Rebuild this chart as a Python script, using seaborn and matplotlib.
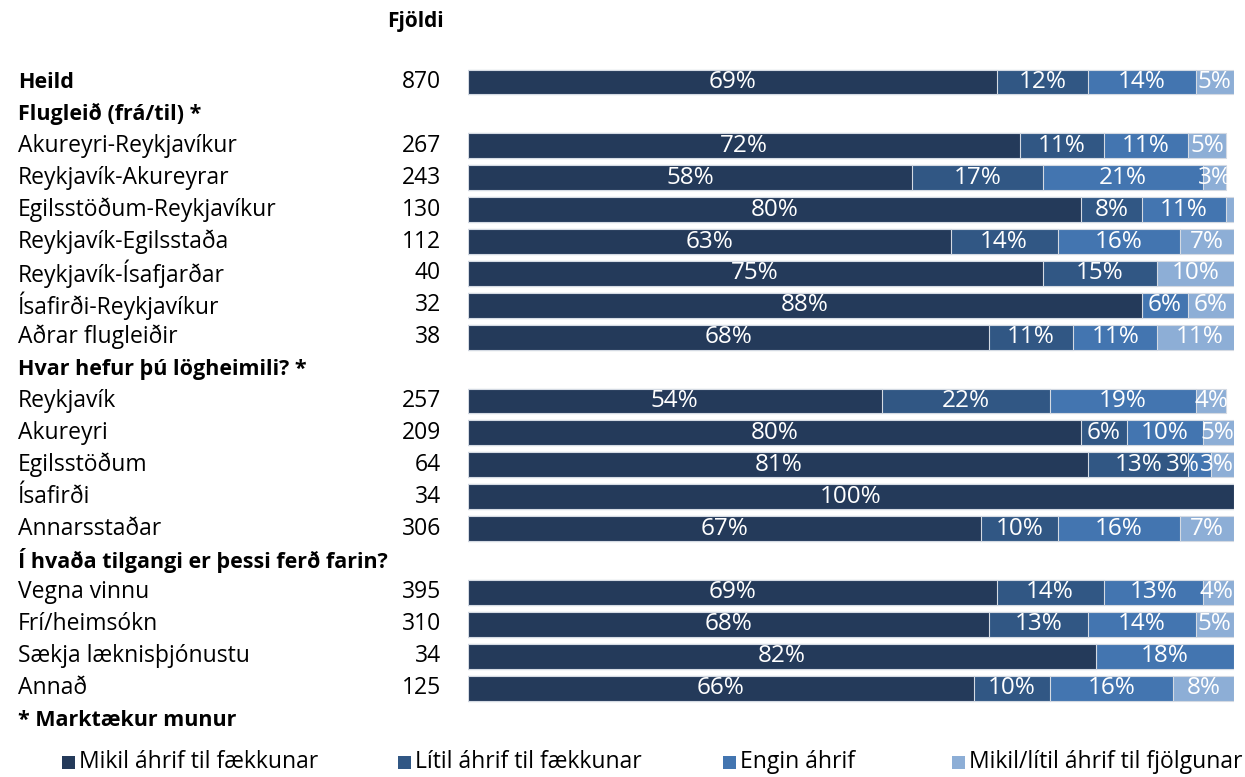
import matplotlib
matplotlib.use("Agg")
import matplotlib.pyplot as plt
from matplotlib.transforms import blended_transform_factory
from matplotlib.patches import Rectangle
import numpy as np
import pandas as pd
import seaborn as sns

sns.set_theme(style="white")
plt.rcParams["font.family"] = ["Open Sans", "DejaVu Sans"]

# Row layout: group headers have no bars
rows = [
    "Heild",
    "Flugleið (frá/til) *",
    "Akureyri-Reykjavíkur", "Reykjavík-Akureyrar", "Egilsstöðum-Reykjavíkur",
    "Reykjavík-Egilsstaða", "Reykjavík-Ísafjarðar", "Ísafirði-Reykjavíkur",
    "Aðrar flugleiðir",
    "Hvar hefur þú lögheimili? *",
    "Reykjavík", "Akureyri", "Egilsstöðum", "Ísafirði", "Annarsstaðar",
    "Í hvaða tilgangi er þessi ferð farin?",
    "Vegna vinnu", "Frí/heimsókn", "Sækja læknisþjónustu", "Annað",
]
bold_rows = ["Heild", "Flugleið (frá/til) *", "Hvar hefur þú lögheimili? *",
             "Í hvaða tilgangi er þessi ferð farin?"]

categories = [
    "Heild",
    "Akureyri-Reykjavíkur", "Reykjavík-Akureyrar", "Egilsstöðum-Reykjavíkur",
    "Reykjavík-Egilsstaða", "Reykjavík-Ísafjarðar", "Ísafirði-Reykjavíkur",
    "Aðrar flugleiðir",
    "Reykjavík", "Akureyri", "Egilsstöðum", "Ísafirði", "Annarsstaðar",
    "Vegna vinnu", "Frí/heimsókn", "Sækja læknisþjónustu", "Annað",
]
fjoldi = [870, 267, 243, 130, 112, 40, 32, 38, 257, 209, 64, 34, 306, 395, 310, 34, 125]

series_names = ["Mikil áhrif til fækkunar", "Lítil áhrif til fækkunar",
                "Engin áhrif", "Mikil/lítil áhrif til fjölgunar"]
mikil_faekkun = [69, 72, 58, 80, 63, 75, 88, 68, 54, 80, 81, 100, 67, 69, 68, 82, 66]
litil_faekkun = [12, 11, 17, 8, 14, 15, 0, 11, 22, 6, 13, 0, 10, 14, 13, 0, 10]
engin_ahrif = [14, 11, 21, 11, 16, 0, 6, 11, 19, 10, 3, 0, 16, 13, 14, 18, 16]
fjolgun = [5, 5, 3, 1, 7, 10, 6, 11, 4, 5, 3, 0, 7, 4, 5, 0, 8]

colors = ["#243a5a", "#315784", "#4375b0", "#8daed6"]

values = np.array([mikil_faekkun, litil_faekkun, engin_ahrif, fjolgun], dtype=float)
cum = np.cumsum(values, axis=0)
df = pd.DataFrame({"row": categories})
for k in range(4):
    df[f"cum{k}"] = cum[k]

W, H = 1245, 777
fig = plt.figure(figsize=(W / 100, H / 100), dpi=100)
ax_w = 766
ax = fig.add_axes([468 / W, 0, ax_w / W, 1])

# Stacked bars: draw cumulative totals from the outermost segment inwards
for k in range(3, -1, -1):
    sns.barplot(data=df, x=f"cum{k}", y="row", order=rows, orient="h",
                color=colors[k], saturation=1, width=0.78, errorbar=None,
                edgecolor="#d4dae3", linewidth=0.8, ax=ax)

pos = {r: i for i, r in enumerate(rows)}
row_step = 31.9
y_top = -82 / row_step
y_bot = (H - 82) / row_step
ax.set_xlim(0, 100)
ax.set_ylim(y_bot, y_top)
ax.axis("off")

# Percentage labels in the middle of each segment; crowded labels are
# pushed leftwards so neighbours do not collide
renderer = fig.canvas.get_renderer()
px_to_data = 100 / ax_w
for i, cat in enumerate(categories):
    y = pos[cat]
    left = 0.0
    labels = []
    for k in range(4):
        v = values[k, i]
        if v >= 3:
            t = ax.text(left + v / 2, y, f"{v:.0f}%", ha="center", va="center",
                        color="white", fontsize=17.5)
            half = t.get_window_extent(renderer).width / 2 * px_to_data
            labels.append([t, left + v / 2, half])
        left += v
    limit = 100.0
    for lab in reversed(labels):
        t, cx, half = lab
        cx = min(cx, limit - half) if cx + half > limit else cx
        t.set_x(cx)
        limit = cx - half

# Row labels and counts on the left
tr = blended_transform_factory(fig.transFigure, ax.transData)
for r in rows:
    bold = r in bold_rows
    ax.text(18 / W, pos[r], r, transform=tr, ha="left", va="center",
            fontsize=15.5 if bold else 16.5, color="black",
            fontweight="bold" if bold else "normal")
for cat, n in zip(categories, fjoldi):
    ax.text(441 / W, pos[cat], str(n), transform=tr, ha="right", va="center",
            fontsize=16.5, color="black")

ax.text(444 / W, (22 - 82) / row_step, "Fjöldi", transform=tr, ha="right",
        va="center", fontsize=15, fontweight="bold", color="black")
ax.text(18 / W, len(rows), "* Marktækur munur", transform=tr, ha="left",
        va="center", fontsize=15.5, fontweight="bold", color="black")

# Legend row
leg_y = 1 - 762 / H
sq = 13
for name, col, xs in zip(series_names, colors, [62, 398, 723, 952]):
    fig.patches.append(Rectangle((xs / W, leg_y - sq / 2 / H), sq / W, sq / H,
                                 transform=fig.transFigure, facecolor=col,
                                 edgecolor="none"))
    fig.text((xs + sq + 4) / W, leg_y, name, ha="left", va="center",
             fontsize=16.5, color="black")

fig.savefig("out.png", dpi=100)
